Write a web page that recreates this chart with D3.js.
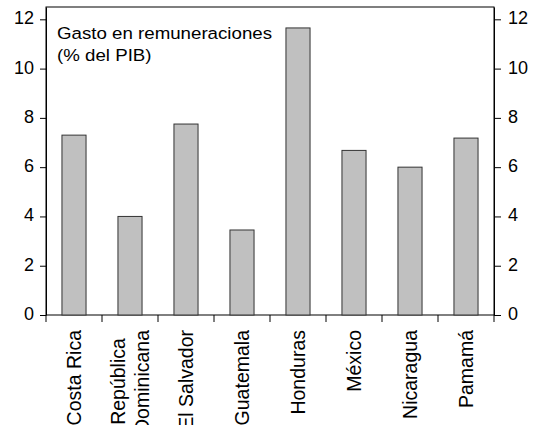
<!DOCTYPE html>
<html>
<head>
<meta charset="utf-8">
<script src="https://cdn.jsdelivr.net/npm/d3@7"></script>
<style>
  html, body { margin: 0; padding: 0; background: #fff; }
  svg { display: block; font-family: "Liberation Sans", Arial, sans-serif; }
</style>
</head>
<body>
<svg id="chart" width="534" height="425"></svg>
<script>
// Public-sector wage bill by country, % of GDP
const countries = ["Costa Rica", "República\nDominicana", "El Salvador", "Guatemala",
                   "Honduras", "México", "Nicaragua", "Pamamá"];
const wageBill = [7.3, 4.0, 7.75, 3.45, 11.65, 6.68, 6.0, 7.18];
const yTicks = [0, 2, 4, 6, 8, 10, 12];
const titleLines = ["Gasto en remuneraciones", "(% del PIB)"];

const svg = d3.select("#chart");
const plot = { left: 46, right: 494, top: 7, bottom: 315 };

const x = d3.scaleBand()
  .domain(countries)
  .range([plot.left, plot.right])
  .paddingInner(0.57)
  .paddingOuter(0.285);

const y = d3.scaleLinear()
  .domain([0, 12.5])
  .range([plot.bottom, plot.top]);

// frame
svg.append("rect")
  .attr("x", plot.left).attr("y", plot.top)
  .attr("width", plot.right - plot.left).attr("height", plot.bottom - plot.top)
  .attr("fill", "none").attr("stroke", "#000").attr("stroke-width", 1);

// bars
svg.append("g").selectAll("rect")
  .data(wageBill)
  .join("rect")
  .attr("x", (d, i) => x(countries[i]))
  .attr("y", d => y(d))
  .attr("width", x.bandwidth())
  .attr("height", d => y(0) - y(d))
  .attr("fill", "#c0c0c0")
  .attr("stroke", "#333")
  .attr("stroke-width", 1);

// left and right value axes
const leftAxis = d3.axisLeft(y).tickValues(yTicks).tickSize(6).tickSizeOuter(0).tickPadding(6);
const rightAxis = d3.axisRight(y).tickValues(yTicks).tickSize(7).tickSizeOuter(0).tickPadding(7);

function styleAxis(g) {
  g.select(".domain").attr("stroke", "#000");
  g.selectAll(".tick line").attr("stroke", "#000");
  g.selectAll(".tick text")
    .attr("fill", "#000")
    .attr("font-size", 18)
    .attr("font-family", "Liberation Sans, Arial, sans-serif")
    .attr("dy", "0.25em");
}

svg.append("g").attr("transform", `translate(${plot.left},0)`).call(leftAxis).call(styleAxis);
svg.append("g").attr("transform", `translate(${plot.right},0)`).call(rightAxis).call(styleAxis);

// category separators below the axis
const step = x.step();
const boundaries = d3.range(countries.length + 1).map(i => plot.left + i * step);
svg.append("g").selectAll("line")
  .data(boundaries)
  .join("line")
  .attr("x1", d => d).attr("x2", d => d)
  .attr("y1", plot.bottom).attr("y2", plot.bottom + 7)
  .attr("stroke", "#000");

// category labels, rotated, centred block for multi-line names
const labelTop = 330;
const fs = 19.5, lineGap = 24;
const labels = svg.append("g").selectAll("g")
  .data(countries)
  .join("g")
  .attr("transform", d => `translate(${x(d) + x.bandwidth() / 2},${labelTop}) rotate(-90)`);

labels.each(function(d) {
  const g = d3.select(this);
  const lines = d.split("\n");
  const texts = lines.map((ln, i) => g.append("text")
    .attr("font-size", fs)
    .attr("fill", "#000")
    .attr("y", 7 + (i - (lines.length - 1) / 2) * lineGap)
    .text(ln));
  if (lines.length === 1) {
    texts[0].attr("text-anchor", "end").attr("x", 0);
  } else {
    const maxLen = d3.max(texts, t => t.node().getComputedTextLength());
    texts.forEach(t => t.attr("text-anchor", "middle").attr("x", -maxLen / 2));
  }
});

// in-plot caption, set slightly wide
const capScale = 1.1;
svg.append("g")
  .attr("transform", `translate(57,0) scale(${capScale},1)`)
  .selectAll("text")
  .data(titleLines)
  .join("text")
  .attr("x", 0)
  .attr("y", (d, i) => 39 + i * 22.5)
  .attr("font-size", 17)
  .attr("fill", "#000")
  .text(d => d);
</script>
</body>
</html>
